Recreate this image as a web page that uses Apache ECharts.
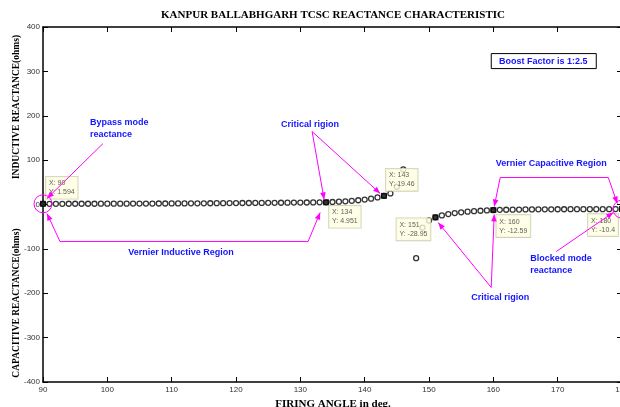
<!DOCTYPE html>
<html><head><meta charset="utf-8">
<script src="https://cdn.jsdelivr.net/npm/echarts@6/dist/echarts.min.js"></script>
<style>html,body{margin:0;padding:0;background:#fff}#c{width:620px;height:407px}</style>
</head><body><div id="c"></div>
<script>
// ---- data ----
const firingAngles = [90,91,92,93,94,95,96,97,98,99,100,101,102,103,104,105,106,107,108,109,110,111,112,113,114,115,116,117,118,119,120,121,122,123,124,125,126,127,128,129,130,131,132,133,134,135,136,137,138,139,140,141,142,143,144,145,146,147,148,149,150,151,152,153,154,155,156,157,158,159,160,161,162,163,164,165,166,167,168,169,170,171,172,173,174,175,176,177,178,179,180];
const reactance = [1.594,1.60,1.61,1.62,1.64,1.66,1.68,1.71,1.74,1.77,1.81,1.85,1.89,1.94,1.99,2.04,2.10,2.16,2.22,2.29,2.36,2.43,2.51,2.59,2.67,2.76,2.85,2.94,3.03,3.13,3.23,3.33,3.43,3.54,3.65,3.76,3.88,4.00,4.12,4.25,4.38,4.52,4.66,4.80,4.951,5.6,6.3,7.2,8.3,9.6,11.2,13.2,15.9,19.46,25.0,40,79,null,-121,-52,-36,-28.95,-24.6,-21.6,-19.4,-17.6,-16.2,-15.1,-14.1,-13.3,-12.59,-12.1,-11.8,-11.55,-11.35,-11.2,-11.06,-10.95,-10.86,-10.78,-10.72,-10.66,-10.61,-10.57,-10.53,-10.5,-10.47,-10.45,-10.43,-10.41,-10.4];
const tipAngles = [90,134,143,151,160,180];
const tipValues = [1.594,4.951,19.46,-28.95,-12.59,-10.4];
const xMin = 90, xMax = 180, xStep = 10;
const yMin = -400, yMax = 400, yStep = 100;

const titleText = 'KANPUR BALLABHGARH TCSC REACTANCE CHARACTERISTIC';
const xName = 'FIRING ANGLE in deg.';
const yNameTop = 'INDUCTIVE REACTANCE(ohms)';
const yNameBottom = 'CAPACITIVE REACTANCE(ohms)';
const boostText = 'Boost Factor is 1:2.5';

// annotation texts (anchored in data coordinates)
const noteTexts = [
  {text:'Bypass mode\nreactance', at:[97.31,171.2], align:'left'},
  {text:'Critical rigion', at:[131.52,180.2], align:'center'},
  {text:'Vernier Inductive Region', at:[111.46,-108.1], align:'center'},
  {text:'Vernier Capacitive Region', at:[169.0,92.3], align:'center'},
  {text:'Critical rigion', at:[161.07,-209.5], align:'center'},
  {text:'Blocked mode\nreactance', at:[165.74,-135.1], align:'left'}
];
// polylines; arrowheads at flagged ends
const noteLines = [
  {pts:[[99.33,137.4],[90.62,13.5]], head:[false,true]},
  {pts:[[90.62,-20.3],[92.64,-83.3],[131.21,-83.3],[133.08,-18.0]], head:[true,true]},
  {pts:[[131.83,164.4],[133.70,11.3]], head:[false,true]},
  {pts:[[131.83,164.4],[142.41,24.8]], head:[false,true]},
  {pts:[[160.14,-4.5],[161.07,60.8],[177.87,60.8],[179.27,2.3]], head:[true,true]},
  {pts:[[159.67,-186.9],[151.43,-40.5]], head:[false,true]},
  {pts:[[159.67,-186.9],[160.14,-22.5]], head:[false,true]},
  {pts:[[169.78,-105.9],[178.65,-18.0]], head:[false,true]}
];
const ringPoints = [[90,1.594],[180,-10.4]];
const boostAt = [167.76,324.3];

// datatip label placements (px, relative to marker box)
const tipOffsets = [[6,-24],[6,6.5],[5,-24],[-36,4],[6,8],[-31,8]];

const MAG = '#ff00ff', BLUE = '#1414ff';
const chart = echarts.init(document.getElementById('c'), null, {renderer:'canvas'});

const axisCommon = {
  type:'value',
  axisLine:{show:true, onZero:false, lineStyle:{color:'#000', width:1.5}},
  axisTick:{show:true, inside:true, length:5, lineStyle:{color:'#000', width:1}},
  splitLine:{show:false}
};

const mainData = firingAngles.map((a,i)=>[a, reactance[i]]).filter(d=>d[1]!==null);
const tipData = tipAngles.map((a,i)=>({
  value:[a, tipValues[i]],
  label:{position:tipOffsets[i]}
}));

chart.setOption({
  animation:false,
  grid:{left:43, right:-2, top:27, bottom:25, containLabel:false, outerBoundsMode:'none'},
  xAxis:[
    Object.assign({}, axisCommon, {min:xMin, max:xMax, interval:xStep, position:'bottom',
      axisLabel:{fontSize:8, color:'#333', fontFamily:'Liberation Sans', margin:4}}),
    Object.assign({}, axisCommon, {min:xMin, max:xMax, interval:xStep, position:'top',
      axisLabel:{show:false}})
  ],
  yAxis:[
    Object.assign({}, axisCommon, {min:yMin, max:yMax, interval:yStep, position:'left',
      axisLabel:{fontSize:8, color:'#333', fontFamily:'Liberation Sans', margin:3}}),
    Object.assign({}, axisCommon, {min:yMin, max:yMax, interval:yStep, position:'right',
      axisLabel:{show:false}})
  ],
  series:[
    {type:'scatter', data:mainData, symbol:'circle', symbolSize:5,
      itemStyle:{color:'#fff', borderColor:'#000', borderWidth:1.3}, z:2},
    {type:'scatter', data:tipData, symbol:'rect', symbolSize:6,
      itemStyle:{color:'#000'}, z:3,
      label:{show:true, align:'left', verticalAlign:'top',
        formatter:p=>'X: '+p.value[0]+'\nY: '+p.value[1],
        fontSize:7, lineHeight:9, color:'#333', fontFamily:'Liberation Sans',
        backgroundColor:'#ffffe1', borderColor:'#c4c4a8', borderWidth:0.8, padding:[2,3,2,3]}}
  ]
});

function px(p){ return chart.convertToPixel({gridIndex:0}, p); }
const g = [];
// title & axis names
g.push({type:'text', x:333, y:15, z:10, style:{text:titleText, font:'bold 11px "Liberation Serif"', fill:'#000', align:'center', verticalAlign:'middle'}});
g.push({type:'text', x:333, y:404, z:10, style:{text:xName, font:'bold 11px "Liberation Serif"', fill:'#000', align:'center', verticalAlign:'middle'}});
g.push({type:'text', x:17, y:107, rotation:Math.PI/2, z:10, style:{text:yNameTop, font:'bold 9.5px "Liberation Serif"', fill:'#000', align:'center', verticalAlign:'middle'}});
g.push({type:'text', x:17, y:303, rotation:Math.PI/2, z:10, style:{text:yNameBottom, font:'bold 9.5px "Liberation Serif"', fill:'#000', align:'center', verticalAlign:'middle'}});
// boost box
const bp = px(boostAt);
g.push({type:'rect', z:10, shape:{x:bp[0]-52, y:bp[1]-7, width:105, height:15}, style:{fill:'#fff', stroke:'#000', lineWidth:1}});
g.push({type:'text', x:bp[0], y:bp[1]+0.5, z:11, style:{text:boostText, font:'bold 9px "Liberation Sans"', fill:BLUE, align:'center', verticalAlign:'middle'}});
// notes
noteTexts.forEach(n=>{
  const p = px(n.at);
  g.push({type:'text', x:p[0], y:p[1], z:10, style:{text:n.text, font:'bold 9px "Liberation Sans"', fill:BLUE, align:n.align, verticalAlign:'middle', lineHeight:12}});
});
function head(a,b){ // arrowhead at b coming from a
  const dx=b[0]-a[0], dy=b[1]-a[1], L=Math.hypot(dx,dy)||1, ux=dx/L, uy=dy/L;
  const len=7, hw=2.8;
  const bx=b[0]-ux*len, by=b[1]-uy*len;
  return {type:'polygon', z:10, shape:{points:[[b[0],b[1]],[bx-uy*hw,by+ux*hw],[bx+uy*hw,by-ux*hw]]}, style:{fill:MAG}};
}
noteLines.forEach(l=>{
  const pts = l.pts.map(px);
  g.push({type:'polyline', z:10, shape:{points:pts}, style:{stroke:MAG, lineWidth:1, fill:null}});
  if(l.head[0]) g.push(head(pts[1], pts[0]));
  if(l.head[1]) g.push(head(pts[pts.length-2], pts[pts.length-1]));
});
ringPoints.forEach(r=>{
  const p = px(r);
  g.push({type:'circle', z:10, shape:{cx:p[0], cy:p[1], r:9}, style:{fill:null, stroke:MAG, lineWidth:1}});
});
chart.setOption({graphic:g});
</script>
</body></html>
